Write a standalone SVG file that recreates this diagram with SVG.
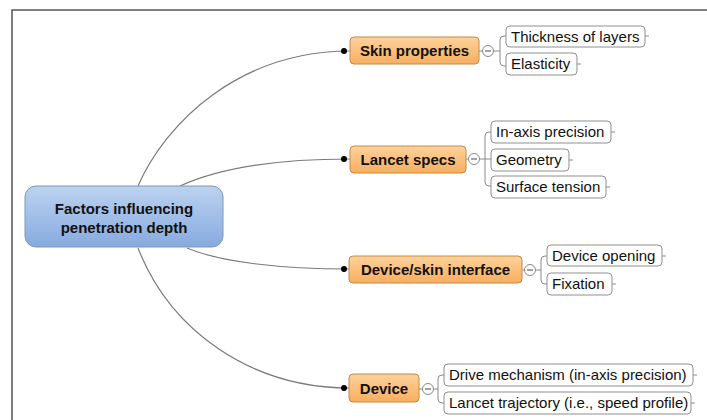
<svg xmlns="http://www.w3.org/2000/svg" width="707" height="420" viewBox="0 0 707 420">
<defs>
<linearGradient id="gRoot" x1="0" y1="0" x2="0" y2="1"><stop offset="0" stop-color="#bcd2f0"/><stop offset="1" stop-color="#86aadf"/></linearGradient>
<linearGradient id="gMain" x1="0" y1="0" x2="0" y2="1"><stop offset="0" stop-color="#fdd29c"/><stop offset="1" stop-color="#f8ae5f"/></linearGradient>
<style>
.frame{fill:none;stroke:#555;stroke-width:1.5}
.curve{fill:none;stroke:#7a7a7a;stroke-width:1.2}
.br{fill:none;stroke:#8a8a8a;stroke-width:1}
.dot{fill:#000}
.root{fill:url(#gRoot);stroke:#7f97b8;stroke-width:1}
.main{fill:url(#gMain);stroke:#c48a45;stroke-width:1}
.leaf{fill:#fff;stroke:#8f8f8f;stroke-width:1}
.col{fill:#fff;stroke:#888;stroke-width:1}
.minus{stroke:#666;stroke-width:1.2}
.tb{font-family:"Liberation Sans",Arial,sans-serif;font-weight:bold;font-size:15px;fill:#111}
.tl{font-family:"Liberation Sans",Arial,sans-serif;font-size:15px;fill:#111}
</style>
</defs>
<path class="frame" d="M12,420 V10 H707"/>
<g id="connectors">
<path class="curve" d="M138,186 C166,122 240,51 350,51"/>
<path class="curve" d="M180,186 C215,170 270,159 350,159"/>
<path class="curve" d="M187,248 C220,262 280,269 350,269"/>
<path class="curve" d="M138,248 C170,330 250,388 350,388"/>
<circle class="dot" cx="344" cy="51" r="3"/>
<circle class="dot" cx="344" cy="159" r="3"/>
<circle class="dot" cx="344" cy="269" r="3"/>
<circle class="dot" cx="344" cy="388" r="3"/>
<path class="br" d="M479,51 H482.5 M493.5,51 H497"/>
<path class="br" d="M506,36 H504 Q500,36 500,40 V62 Q500,66 504,66 H506 M497,51 H500"/>
<path class="br" d="M466,159 H468.5 M479.5,159 H491"/>
<path class="br" d="M491,132 H489 Q485,132 485,136 V182 Q485,186 489,186 H491"/>
<path class="br" d="M522,270 H524.5 M535.5,270 H539"/>
<path class="br" d="M547,256 H545 Q541,256 541,260 V280 Q541,284 545,284 H547 M539,270 H541"/>
<path class="br" d="M419,389 H422.5 M433.5,389 H436"/>
<path class="br" d="M444,375 H442 Q438,375 438,379 V399 Q438,403 442,403 H444 M436,389 H438"/>
<path class="br" d="M645,36 H649 M577,64 H581 M611,132 H615 M569,160 H573 M606,187 H610 M662,256 H666 M612,284 H616 M693,375 H697 M691,403 H695"/>
</g>
<g id="root">
<rect class="root" x="25" y="186" width="198" height="61" rx="11"/>
<text class="tb" x="124" y="214" text-anchor="middle">Factors influencing</text>
<text class="tb" x="124" y="233" text-anchor="middle">penetration depth</text>
</g>
<g id="skin-properties">
<rect class="main" x="350" y="37" width="129" height="27" rx="4"/>
<text class="tb" x="414.5" y="56" text-anchor="middle">Skin properties</text>
<circle class="col" cx="488" cy="51" r="5.5"/><line class="minus" x1="485" y1="51" x2="491" y2="51"/>
</g>
<g id="thickness"><rect class="leaf" x="506" y="26" width="139" height="21" rx="4"/><text class="tl" x="511" y="42">Thickness of layers</text></g>
<g id="elasticity"><rect class="leaf" x="506" y="53" width="71" height="22" rx="4"/><text class="tl" x="511" y="69">Elasticity</text></g>
<g id="lancet-specs">
<rect class="main" x="350" y="146" width="116" height="27" rx="4"/>
<text class="tb" x="408" y="165" text-anchor="middle">Lancet specs</text>
<circle class="col" cx="474" cy="159" r="5.5"/><line class="minus" x1="471" y1="159" x2="477" y2="159"/>
</g>
<g id="in-axis"><rect class="leaf" x="491" y="121" width="120" height="22" rx="4"/><text class="tl" x="496" y="137">In-axis precision</text></g>
<g id="geometry"><rect class="leaf" x="491" y="149" width="78" height="22" rx="4"/><text class="tl" x="496" y="165">Geometry</text></g>
<g id="surface-tension"><rect class="leaf" x="491" y="176" width="115" height="22" rx="4"/><text class="tl" x="496" y="192">Surface tension</text></g>
<g id="device-skin-interface">
<rect class="main" x="349" y="256" width="173" height="27" rx="4"/>
<text class="tb" x="435.5" y="275" text-anchor="middle">Device/skin interface</text>
<circle class="col" cx="530" cy="270" r="5.5"/><line class="minus" x1="527" y1="270" x2="533" y2="270"/>
</g>
<g id="device-opening"><rect class="leaf" x="547" y="245" width="115" height="21" rx="4"/><text class="tl" x="552" y="261">Device opening</text></g>
<g id="fixation"><rect class="leaf" x="547" y="273" width="65" height="22" rx="4"/><text class="tl" x="552" y="289">Fixation</text></g>
<g id="device">
<rect class="main" x="349" y="374" width="70" height="28" rx="4"/>
<text class="tb" x="384" y="394" text-anchor="middle">Device</text>
<circle class="col" cx="428" cy="389" r="5.5"/><line class="minus" x1="425" y1="389" x2="431" y2="389"/>
</g>
<g id="drive-mechanism"><rect class="leaf" x="444" y="364" width="249" height="22" rx="4"/><text class="tl" x="449" y="380">Drive mechanism (in-axis precision)</text></g>
<g id="lancet-trajectory"><rect class="leaf" x="444" y="392" width="247" height="22" rx="4"/><text class="tl" x="449" y="408">Lancet trajectory (i.e., speed profile)</text></g>
</svg>
